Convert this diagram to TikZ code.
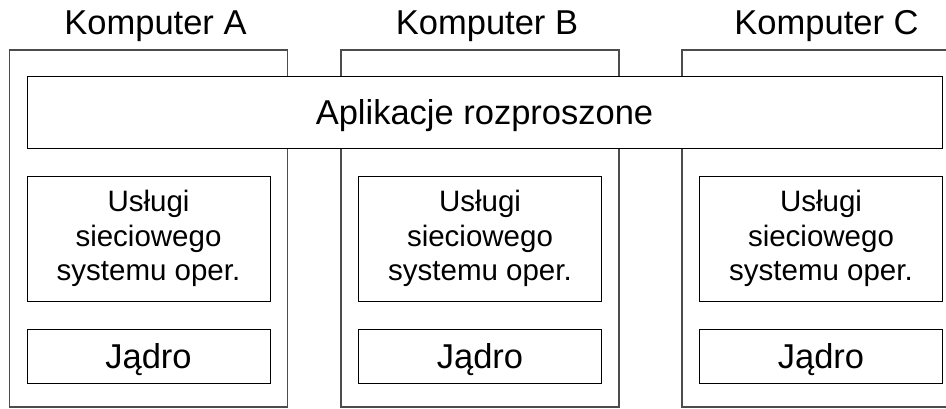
\documentclass[tikz,border=0pt]{standalone}
\usepackage{fontspec}
\setmainfont{Liberation Sans}
\usepackage{tikz}
\usetikzlibrary{positioning}

\begin{document}
\begin{tikzpicture}[
    x=1pt, y=-1pt,
    komp/.style={draw=black!70, line width=1.2pt, inner sep=0pt, minimum width=278pt, minimum height=357pt},
    warstwa/.style={draw, fill=white, line width=1pt, inner sep=0pt, align=center},
    uslugi/.style={warstwa, minimum width=243pt, minimum height=125pt, font=\fontsize{29.5}{34.5}\selectfont},
    jadro/.style={warstwa, minimum width=243pt, minimum height=54pt, text height=24.5pt, text depth=0pt, font=\fontsize{34.5}{40}\selectfont},
    napis/.style={font=\fontsize{34.5}{40}\selectfont, anchor=base, inner sep=0pt}
]
\clip (0,0) rectangle (946,408);

% Computers
\node[komp] (kompA) at (148.5,228.5) {};
\node[komp] (kompB) at (480,228.5) {};
\node[komp] (kompC) at (821,228.5) {};

% Labels
\node[napis] (etykA) at (155.5,34) {Komputer A};
\node[napis] (etykB) at (487,34) {Komputer B};
\node[napis] (etykC) at (826.5,34) {Komputer C};

% Distributed applications
\node[warstwa, minimum width=915pt, minimum height=72pt, text height=25pt, text depth=0pt,
      font=\fontsize{34.5}{40}\selectfont] (aplik) at (484.5,112) {Aplikacje rozproszone};

% Network OS services
\coordinate (pA) at (kompA |- aplik.south);
\coordinate (pB) at (kompB |- aplik.south);
\coordinate (pC) at (kompC |- aplik.south);
\node[uslugi, below=27pt of pA] (uslA) {Usługi\\sieciowego\\systemu oper.};
\node[uslugi, below=27pt of pB] (uslB) {Usługi\\sieciowego\\systemu oper.};
\node[uslugi, below=27pt of pC] (uslC) {Usługi\\sieciowego\\systemu oper.};

% Kernels
\node[jadro, below=27pt of uslA] (jadA) {Jądro};
\node[jadro, below=27pt of uslB] (jadB) {Jądro};
\node[jadro, below=27pt of uslC] (jadC) {Jądro};
\end{tikzpicture}
\end{document}
